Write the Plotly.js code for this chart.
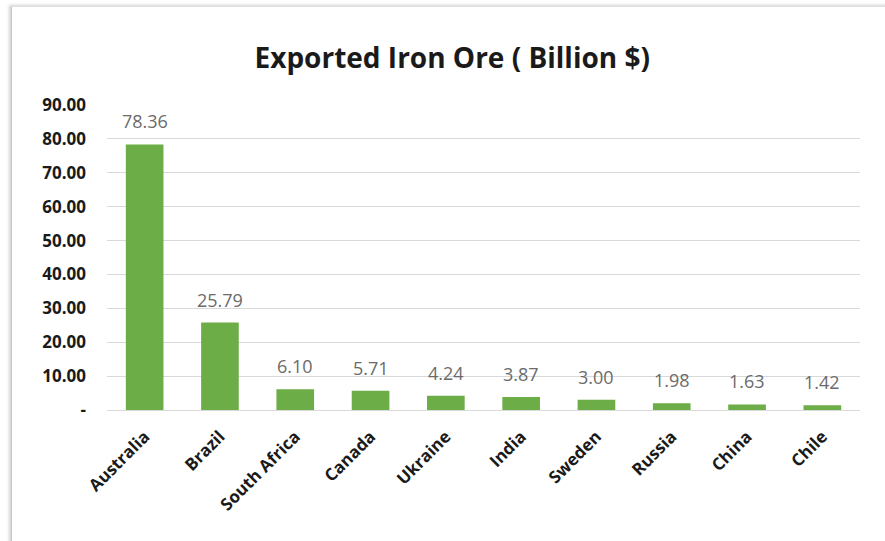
<!DOCTYPE html>
<html>
<head>
<meta charset="utf-8">
<script src="https://cdn.plot.ly/plotly-3.0.1.min.js"></script>
<style>
html,body{margin:0;padding:0;background:#ffffff;overflow:hidden;}
#frame{position:absolute;left:11px;top:6px;width:900px;height:560px;border-left:1px solid #c8c8c8;border-top:1px solid #e0e0e0;box-shadow:-2px -1px 3px rgba(0,0,0,0.18);background:#fff;}
#chart{position:absolute;left:0;top:0;width:885px;height:541px;}
</style>
</head>
<body>
<div id="frame"></div>
<div id="chart"></div>
<script>
const countries = ["Australia","Brazil","South Africa","Canada","Ukraine","India","Sweden","Russia","China","Chile"];
const values = [78.36,25.79,6.10,5.71,4.24,3.87,3.00,1.98,1.63,1.42];
const tickValues = [0,10,20,30,40,50,60,70,80,90];
const tickLabels = ["-","10.00","20.00","30.00","40.00","50.00","60.00","70.00","80.00","90.00"];

const trace = {
  type: "bar",
  x: countries,
  y: values,
  marker: {color: "#6cad47", line: {width: 0}},
  hoverinfo: "none"
};

const labels = countries.map((c, i) => ({
  x: c, y: values[i], xref: "x", yref: "y",
  text: values[i].toFixed(2),
  showarrow: false,
  yanchor: "bottom",
  yshift: 9,
  font: {family: "Open Sans, sans-serif", size: 18, color: "#6b6b6b"}
}));

const layout = {
  width: 885, height: 541,
  margin: {l: 107, r: 25, t: 105, b: 131},
  paper_bgcolor: "rgba(0,0,0,0)",
  plot_bgcolor: "rgba(0,0,0,0)",
  bargap: 0.5,
  showlegend: false,
  annotations: labels,
  title: {
    text: "<b>Exported Iron Ore ( Billion $)</b>",
    x: 0.511, xanchor: "center",
    y: 0.893, yanchor: "middle",
    font: {family: "Open Sans, sans-serif", size: 28, color: "#1a1a1a"}
  },
  xaxis: {
    tickangle: -45,
    tickfont: {family: "Open Sans, sans-serif", size: 17, color: "#1a1a1a", weight: "bold"},
    showline: true, linecolor: "#d9d9d9", linewidth: 1,
    ticks: "", ticklabelstandoff: 9, fixedrange: true
  },
  yaxis: {
    range: [0, 90],
    tickvals: tickValues,
    ticktext: tickLabels,
    tickfont: {family: "Open Sans, sans-serif", size: 17, color: "#1a1a1a", weight: "bold"},
    showgrid: true, gridcolor: "#d9d9d9", gridwidth: 1,
    zeroline: false, showline: false,
    ticks: "", ticklabelstandoff: 20, fixedrange: true
  }
};

Plotly.newPlot("chart", [trace], layout, {displayModeBar: false, staticPlot: true});
</script>
</body>
</html>
